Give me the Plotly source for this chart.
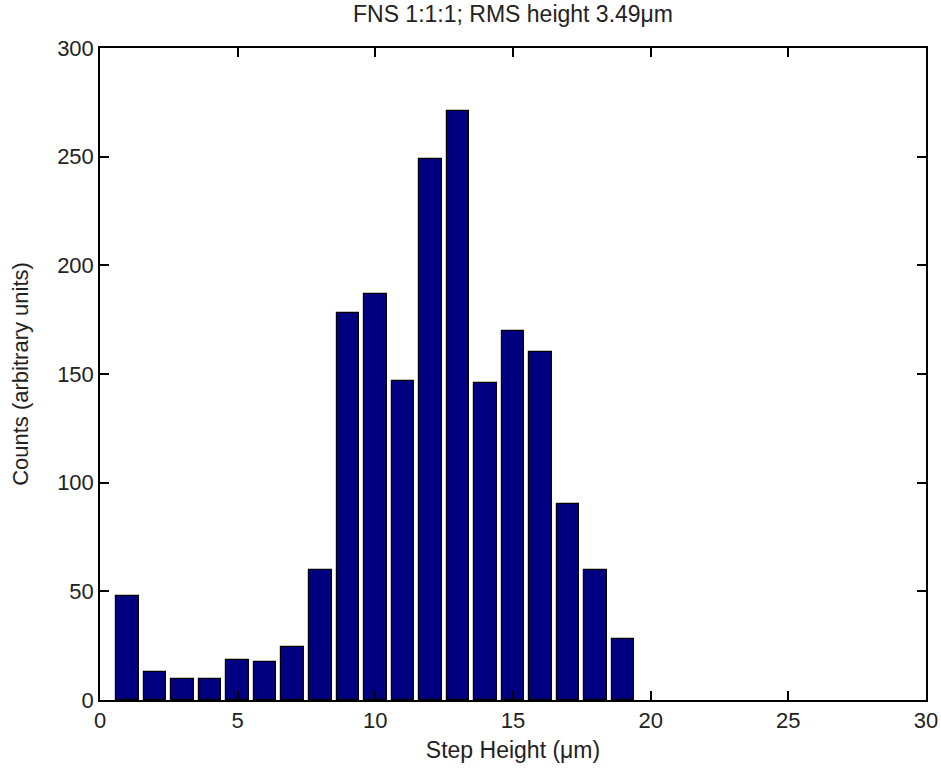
import plotly.graph_objects as go

centers = [1, 2, 3, 4, 5, 6, 7, 8, 9, 10, 11, 12, 13, 14, 15, 16, 17, 18, 19]
counts = [48, 13, 9.5, 9.5, 18.5, 17.5, 24.5, 60, 178, 187, 147, 249, 271, 146, 170, 160, 90, 60, 28]
x_ticks = [0, 5, 10, 15, 20, 25, 30]
y_ticks = [0, 50, 100, 150, 200, 250, 300]

fig = go.Figure(go.Bar(
    x=centers, y=counts, width=0.82,
    marker=dict(color="#000080", line=dict(color="black", width=1.2)),
))

font = dict(family="Liberation Sans, Arial, sans-serif", size=22, color="#222222")
axis_common = dict(
    showgrid=False, zeroline=False, showline=True, linecolor="black", linewidth=1.5,
    mirror="ticks", ticks="inside", ticklen=9, tickwidth=1.5, tickcolor="black",
    tickfont=font, automargin=False,
)
fig.update_layout(
    width=941, height=774,
    margin=dict(l=100, r=15, t=48, b=74),
    paper_bgcolor="white", plot_bgcolor="white",
    showlegend=False,
    title=dict(text="FNS 1:1:1; RMS height 3.49μm", x=0.5, xref="paper", xanchor="center",
               y=0.982, yanchor="middle", font=dict(font, size=23)),
    xaxis=dict(range=[0, 30], tickvals=x_ticks, title=dict(text="Step Height (μm)", font=dict(font, size=23), standoff=10), **axis_common),
    yaxis=dict(range=[0, 300], tickvals=y_ticks, title=dict(text="Counts (arbitrary units)", font=font, standoff=22), **axis_common),
    bargap=0,
)
fig.write_html("out.html")
